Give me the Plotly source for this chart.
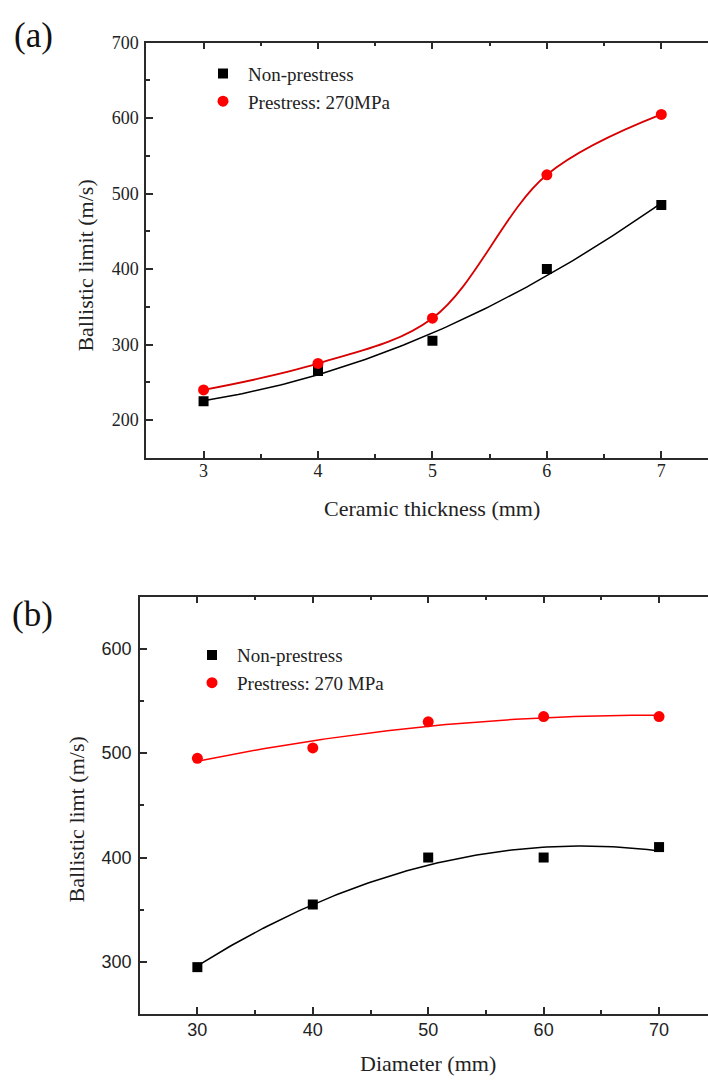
import numpy as np
import plotly.graph_objects as go

# ---- data: panel (a) ----
thickness = [3, 4, 5, 6, 7]
a_non = [225, 265, 305, 400, 485]
a_pre = [240, 275, 335, 525, 605]

# ---- data: panel (b) ----
diameter = [30, 40, 50, 60, 70]
b_non = [295, 355, 400, 400, 410]
b_pre = [495, 505, 530, 535, 535]

W, H = 708, 1081
SERIF = "Liberation Serif"
SANS = "Liberation Sans"
AX = "#2a2a2a"
RED = "#ff0000"
RED_LINE = "#d80000"


def fit_curve(x, y, deg=2, n=120):
    c = np.polyfit(x, y, deg)
    xs = np.linspace(min(x), max(x), n)
    return xs, np.polyval(c, xs)


fig = go.Figure()

# panel (a)
xs, ys = fit_curve(thickness, a_non)
fig.add_trace(go.Scatter(x=xs, y=ys, mode="lines", line=dict(color="black", width=1.5),
                         showlegend=False, xaxis="x", yaxis="y", hoverinfo="skip"))
fig.add_trace(go.Scatter(x=thickness, y=a_pre, mode="lines",
                         line=dict(color=RED_LINE, width=1.8, shape="spline", smoothing=1.0),
                         showlegend=False, xaxis="x", yaxis="y", hoverinfo="skip"))
fig.add_trace(go.Scatter(x=thickness, y=a_non, mode="markers", name="Non-prestress",
                         marker=dict(symbol="square", size=10, color="black"),
                         xaxis="x", yaxis="y", legend="legend"))
fig.add_trace(go.Scatter(x=thickness, y=a_pre, mode="markers", name="Prestress: 270MPa",
                         marker=dict(symbol="circle", size=11, color=RED),
                         xaxis="x", yaxis="y", legend="legend"))

# panel (b)
xs, ys = fit_curve(diameter, b_non)
fig.add_trace(go.Scatter(x=xs, y=ys, mode="lines", line=dict(color="black", width=1.5),
                         showlegend=False, xaxis="x2", yaxis="y2", hoverinfo="skip"))
xs, ys = fit_curve(diameter, b_pre)
fig.add_trace(go.Scatter(x=xs, y=ys, mode="lines", line=dict(color=RED, width=1.5),
                         showlegend=False, xaxis="x2", yaxis="y2", hoverinfo="skip"))
fig.add_trace(go.Scatter(x=diameter, y=b_non, mode="markers", name="Non-prestress",
                         marker=dict(symbol="square", size=10, color="black"),
                         xaxis="x2", yaxis="y2", legend="legend2"))
fig.add_trace(go.Scatter(x=diameter, y=b_pre, mode="markers", name="Prestress: 270 MPa",
                         marker=dict(symbol="circle", size=11, color=RED),
                         xaxis="x2", yaxis="y2", legend="legend2"))

common_axis = dict(showline=True, linecolor=AX, linewidth=1.5, ticks="inside",
                   ticklen=7, tickwidth=1.5, tickcolor=AX, showgrid=False, zeroline=False)

a_dom_y = [1 - 452 / H, 1 - 33 / H]
b_dom_y = [1 - 1013.5 / H, 1 - 592 / H]

fig.update_layout(
    width=W, height=H,
    margin=dict(l=0, r=0, t=0, b=0),
    paper_bgcolor="white", plot_bgcolor="white",
    xaxis=dict(**common_axis, domain=[146 / W, 1], range=[2.497, 7.408], anchor="y",
               tickvals=[3, 4, 5, 6, 7], mirror="ticks",
               minor=dict(ticks="inside", ticklen=4, tickwidth=1.5, tickcolor=AX, dtick=0.5, tick0=2.5),
               tickfont=dict(family=SERIF, size=18, color="#222"), ticklabelstandoff=-4),
    yaxis=dict(**common_axis, domain=a_dom_y, range=[150, 700], anchor="x",
               tickvals=[200, 300, 400, 500, 600, 700],
               minor=dict(ticks="inside", ticklen=4, tickwidth=1.5, tickcolor=AX, dtick=50, tick0=150),
               tickfont=dict(family=SERIF, size=18, color="#222"), ticklabelstandoff=2),
    xaxis2=dict(**common_axis, domain=[140 / W, 1], range=[25.03, 74.24], anchor="y2",
                tickvals=[30, 40, 50, 60, 70], mirror="ticks",
                minor=dict(ticks="inside", ticklen=4, tickwidth=1.5, tickcolor=AX, dtick=5, tick0=25),
                tickfont=dict(family=SANS, size=18, color="#222"), ticklabelstandoff=-1),
    yaxis2=dict(**common_axis, domain=b_dom_y, range=[250, 650], anchor="x2",
                tickvals=[300, 400, 500, 600],
                minor=dict(ticks="inside", ticklen=4, tickwidth=1.5, tickcolor=AX, dtick=50, tick0=250),
                tickfont=dict(family=SANS, size=18, color="#222"), ticklabelstandoff=3),
    legend=dict(x=198 / W, y=1 - 45 / H, xanchor="left", yanchor="top",
                font=dict(family=SERIF, size=19, color="#222"), bgcolor="rgba(0,0,0,0)",
                itemwidth=40, tracegroupgap=0),
    legend2=dict(x=187 / W, y=1 - 632 / H, xanchor="left", yanchor="top",
                 font=dict(family=SERIF, size=19, color="#222"), bgcolor="rgba(0,0,0,0)",
                 itemwidth=40, tracegroupgap=0),
    annotations=[
        dict(text="(a)", x=33 / W, y=1 - 26 / H, xref="paper", yref="paper", showarrow=False,
             font=dict(family=SERIF, size=35, color="#111"), xanchor="center", yanchor="middle"),
        dict(text="(b)", x=32 / W, y=1 - 610 / H, xref="paper", yref="paper", showarrow=False,
             font=dict(family=SERIF, size=35, color="#111"), xanchor="center", yanchor="middle"),
        dict(text="Ceramic thickness (mm)", x=432 / W, y=1 - 503 / H, xref="paper", yref="paper",
             showarrow=False, font=dict(family=SERIF, size=22, color="#222"),
             xanchor="center", yanchor="middle"),
        dict(text="Ballistic limit (m/s)", x=86 / W, y=1 - 258 / H, xref="paper", yref="paper",
             showarrow=False, textangle=-90, font=dict(family=SERIF, size=22, color="#222"),
             xanchor="center", yanchor="middle"),
        dict(text="Diameter (mm)", x=428 / W, y=1 - 1063 / H, xref="paper", yref="paper",
             showarrow=False, font=dict(family=SERIF, size=22, color="#222"),
             xanchor="center", yanchor="middle"),
        dict(text="Ballistic limt (m/s)", x=76 / W, y=1 - 817 / H, xref="paper", yref="paper",
             showarrow=False, textangle=-90, font=dict(family=SERIF, size=22, color="#222"),
             xanchor="center", yanchor="middle"),
    ],
)

fig.write_html("out.html")
